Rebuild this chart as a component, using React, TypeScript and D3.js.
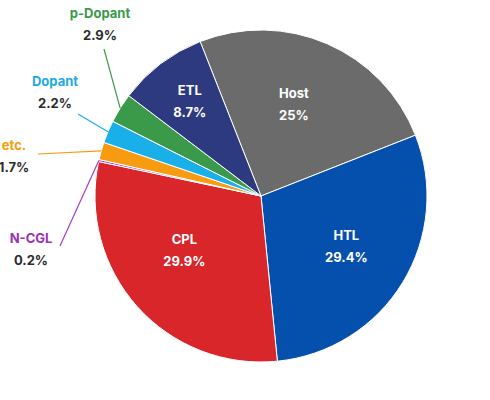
import React from "react";
import * as d3 from "d3";

const categories = ["Host", "HTL", "CPL", "N-CGL", "etc.", "Dopant", "p-Dopant", "ETL"];
const values = [25, 29.4, 29.9, 0.2, 1.7, 2.2, 2.9, 8.7];
const valueLabels = ["25%", "29.4%", "29.9%", "0.2%", "1.7%", "2.2%", "2.9%", "8.7%"];

const colors: Record<string, string> = {
  Host: "#6b6b6b",
  HTL: "#0550ad",
  CPL: "#d8262b",
  "N-CGL": "#a53cc4",
  "etc.": "#f99b10",
  Dopant: "#19afe9",
  "p-Dopant": "#3a9a4a",
  ETL: "#2e3a80",
};
const nameColors: Record<string, string> = {
  "N-CGL": "#9b30b8",
  "etc.": "#f59e0b",
  Dopant: "#1ea9e8",
  "p-Dopant": "#3a9a4a",
};

// inner label placement: radius and angle offset (degrees)
const insideLabel: Record<string, { r: number; da: number }> = {
  Host: { r: 98, da: -3.9 },
  HTL: { r: 99, da: -1 },
  CPL: { r: 94, da: 6.5 },
  ETL: { r: 119, da: 0.4 },
};
// outer label placement (leader end and text anchor)
const outsideLabel: Record<string, { lx: number; ly: number; tx: number; ty: number }> = {
  "p-Dopant": { lx: 104, ly: 49, tx: 100, ty: 13 },
  Dopant: { lx: 78, ly: 114, tx: 55, ty: 81 },
  "etc.": { lx: 38, ly: 154, tx: 14, ty: 145 },
  "N-CGL": { lx: 60, ly: 246, tx: 31, ty: 238 },
};

const W = 490, H = 400;
const cx = 261, cy = 196, R = 166;
const startDeg = -21.5;
const FONT = "Inter, 'Noto Sans', sans-serif";

export default function App() {
  const data = categories.map((c, i) => ({ name: c, value: values[i], label: valueLabels[i] }));
  const start = (startDeg * Math.PI) / 180;
  const pie = d3.pie<any>().value((d) => d.value).sort(null).startAngle(start).endAngle(start + 2 * Math.PI);
  const arcs = pie(data);
  const arc = d3.arc<any>().innerRadius(0).outerRadius(R);

  return (
    <svg width={W} height={H} style={{ position: "absolute", left: 0, top: 0 }} fontFamily={FONT}>
      <rect width={W} height={H} fill="#fff" />
      <g transform={`translate(${cx},${cy})`}>
        {arcs.map((a) => (
          <path key={a.data.name} d={arc(a) as string} fill={colors[a.data.name]} stroke="#fff" strokeWidth={1} />
        ))}
      </g>
      {arcs.map((a) => {
        const name = a.data.name;
        const mid = (a.startAngle + a.endAngle) / 2;
        if (insideLabel[name]) {
          const p = insideLabel[name];
          const ang = mid + (p.da * Math.PI) / 180;
          const x = cx + p.r * Math.sin(ang);
          const y = cy - p.r * Math.cos(ang);
          return (
            <g key={name} fill="#fff" fontWeight={700} fontSize={13} textAnchor="middle">
              <text x={x} y={y - 11} dominantBaseline="central">{name}</text>
              <text x={x} y={y + 11} dominantBaseline="central">{a.data.label}</text>
            </g>
          );
        }
        const o = outsideLabel[name];
        const ex = cx + R * Math.sin(mid);
        const ey = cy - R * Math.cos(mid);
        return (
          <g key={name}>
            <line x1={ex} y1={ey} x2={o.lx} y2={o.ly} stroke={colors[name]} strokeWidth={1.2} />
            <text x={o.tx} y={o.ty} textAnchor="middle" dominantBaseline="central" fontWeight={700} fontSize={13} fill={nameColors[name]}>{name}</text>
            <text x={o.tx} y={o.ty + 22} textAnchor="middle" dominantBaseline="central" fontWeight={700} fontSize={13} fill="#2b2b2b">{a.data.label}</text>
          </g>
        );
      })}
    </svg>
  );
}
